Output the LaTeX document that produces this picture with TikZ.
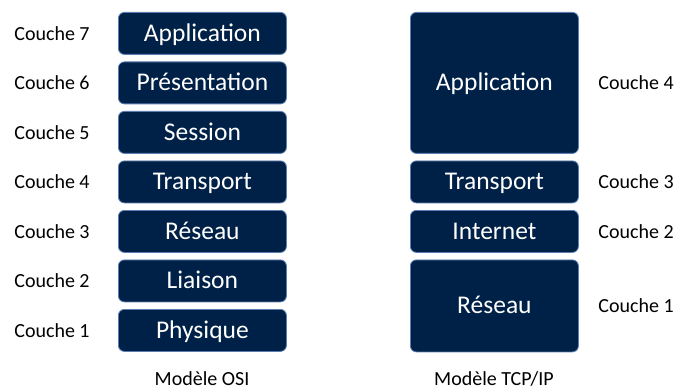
\documentclass[tikz,border=0pt]{standalone}
\usepackage{fontspec}
\setmainfont{Carlito}
\definecolor{boxfill}{HTML}{002147}
\definecolor{boxline}{HTML}{5B7DB1}
\begin{document}
\begin{tikzpicture}[x=1pt,y=1pt,
  layer/.style={draw=boxline, line width=0.8pt, fill=boxfill, rounded corners=6pt, text=white, font=\fontsize{25.5}{28}\selectfont, inner sep=0pt, text height=18pt, text depth=2pt, anchor=north west},
  lbl/.style={font=\fontsize{20}{23}\selectfont, text=black, text height=14pt, text depth=0pt, inner sep=0pt}]
\useasboundingbox (0,0) rectangle (676,-390);
\fill[white] (0,0) rectangle (676,-390);
% OSI
\foreach \n/\t/\y [count=\i] in {a7/Application/12, a6/Présentation/61.5, a5/Session/111, a4/Transport/160.5, a3/Réseau/210, a2/Liaison/259.5, a1/Physique/309}{
  \node[layer, minimum width=168pt, minimum height=42pt] (\n) at (118,-\y) {\t};
}
\foreach \n/\k in {a7/7,a6/6,a5/5,a4/4,a3/3,a2/2,a1/1}{
  \node[lbl] (l\n) at (52,0 |- \n.center) {Couche \k};
}
% TCP/IP
\node[layer, minimum width=168pt, minimum height=141pt] (t4) at (410,-12) {Application};
\node[layer, minimum width=168pt, minimum height=42pt] (t3) at (410,-160.5) {Transport};
\node[layer, minimum width=168pt, minimum height=42pt] (t2) at (410,-210) {Internet};
\node[layer, minimum width=168pt, minimum height=92pt] (t1) at (410,-259.5) {Réseau};
\foreach \n/\k in {t4/4,t3/3,t2/2,t1/1}{
  \node[lbl] (l\n) at (636,0 |- \n.center) {Couche \k};
}
\node[lbl] (osi) at (202,-378.5) {Modèle OSI};
\node[lbl] (tcp) at (494,-378.5) {Modèle TCP/IP};
\end{tikzpicture}
\end{document}
